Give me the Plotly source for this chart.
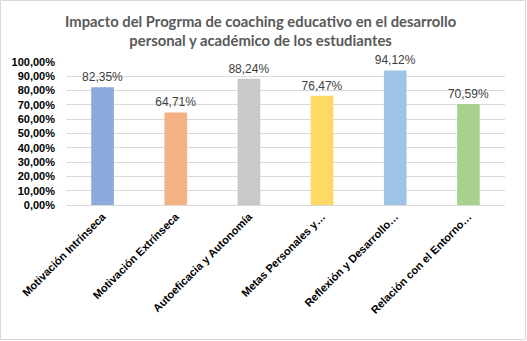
import plotly.graph_objects as go

categories = ["Motivación Intrínseca", "Motivación Extrínseca", "Autoeficacia y Autonomía",
              "Metas Personales y…", "Reflexión y Desarrollo…", "Relación con el Entorno…"]
values = [0.8235, 0.6471, 0.8824, 0.7647, 0.9412, 0.7059]
labels = ["82,35%", "64,71%", "88,24%", "76,47%", "94,12%", "70,59%"]
colors = ["#8EA9DB", "#F4B183", "#C9C9C9", "#FFD966", "#9DC3E6", "#A9D18E"]
title_text = "Impacto del Progrma de coaching educativo en el desarrollo<br>personal y académico de los estudiantes"

W, H = 527, 341
ml, mr, mt, mb = 66, 22, 62, 136
pw, ph = W - ml - mr, H - mt - mb

fig = go.Figure(go.Bar(
    x=categories, y=values, marker=dict(color=colors, line=dict(width=0)),
    text=labels, textposition="outside", cliponaxis=False, constraintext="none",
    textfont=dict(family="Arial, Liberation Sans", size=12, color="#404040"),
    width=0.31,
))

fig.update_layout(
    width=W, height=H, margin=dict(l=ml, r=mr, t=mt, b=mb),
    paper_bgcolor="white", plot_bgcolor="white",
    separators=",.",
    showlegend=False,
    xaxis=dict(tickangle=-45, tickfont=dict(family="Arial, Liberation Sans", size=11, color="#000000", weight="bold"),
               showline=True, linecolor="#D9D9D9", linewidth=1, ticks=""),
    yaxis=dict(range=[0, 1.0], dtick=0.1, tickformat=".2%", showgrid=True, gridcolor="#D9D9D9",
               zeroline=False, ticks="", ticklabelstandoff=10,
               tickfont=dict(family="Arial, Liberation Sans", size=11, color="#000000", weight="bold")),
    annotations=[dict(text=title_text, xref="paper", yref="paper",
                      x=(260 - ml) / pw, y=(ph + mt - 10) / ph, xanchor="center", yanchor="top",
                      showarrow=False, align="center",
                      font=dict(family="Lato, Open Sans", size=14.8, color="#595959", weight="bold"))],
    shapes=[dict(type="rect", xref="paper", yref="paper",
                 x0=(-ml + 0.5) / pw, x1=(pw + mr - 1.5) / pw,
                 y0=(-mb + 1.5) / ph, y1=(ph + mt - 0.5) / ph,
                 line=dict(color="#D9D9D9", width=1), layer="below")],
)

fig.write_html("out.html")
